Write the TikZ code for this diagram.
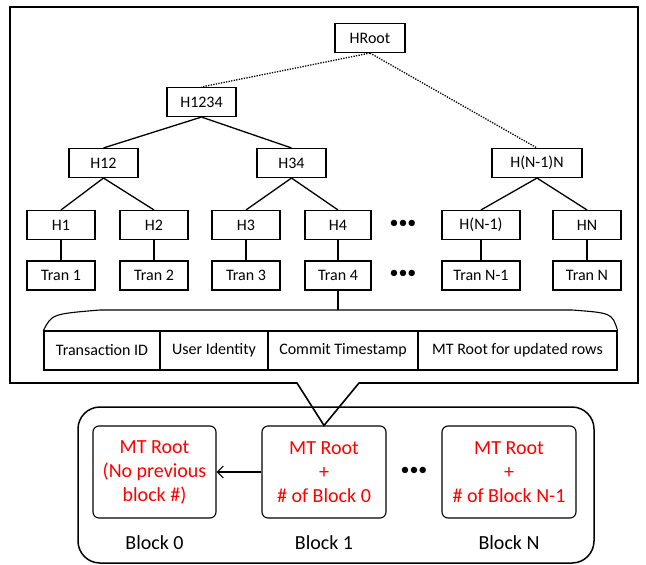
\documentclass[tikz,border=0pt]{standalone}
\usepackage{fontspec}
\setmainfont{Carlito}
\usetikzlibrary{arrows.meta}
\tikzset{
  hbox/.style={draw,line width=1.1pt,inner sep=0pt,minimum height=29pt,font=\fontsize{16}{18}\selectfont},
  field/.style={draw,line width=1.1pt,inner sep=0pt,minimum height=39pt,font=\fontsize{16}{18}\selectfont},
  blk/.style={draw,line width=1.1pt,rounded corners=6pt,minimum height=92pt,inner sep=0pt,text=red,align=center,font=\fontsize{20}{24}\selectfont},
  tree/.style={line width=1.3pt},
  dots/.style={font=\fontsize{18}{18}\selectfont},
}
\begin{document}
\begin{tikzpicture}[x=1pt,y=-1pt,>={Straight Barb[length=6pt,width=12pt]}]
    \useasboundingbox (0,0) rectangle (646,565);
    \node[hbox,minimum width=70pt](hroot) at (370,38) {HRoot};
    \node[hbox,minimum width=69pt](h1234) at (201.5,102) {H1234};
    \node[hbox,minimum width=69pt](h12) at (103.5,163) {H12};
    \node[hbox,minimum width=69pt](h34) at (291.5,163) {H34};
    \node[hbox,minimum width=90pt](hnn) at (537,163) {H(N-1)N};
    \foreach \i/\x/\w/\h/\t in {1/61/68/H1/Tran 1,2/154/68/H2/Tran 2,3/246/68/H3/Tran 3,4/338/66/H4/Tran 4,m/481/78/H(N-1)/Tran N-1,n/587/68/HN/Tran N}{
        \node[hbox,minimum width=\w pt](h\i) at (\x,225) {\h};
        \node[hbox,minimum width=\w pt](t\i) at (\x,275.5) {\t};
        \draw[tree](h\i)--(t\i);
    }
    \node[dots](dotsh) at (403,224) {•••};
    \node[dots](dotst) at (403,274) {•••};
    \draw[line width=1.3pt,dash pattern=on 1.3pt off 1.3pt](hroot.south)--(h1234.north);
    \draw[line width=1.3pt,dash pattern=on 1.3pt off 1.3pt](hroot.south)--(hnn.north);
    \draw[tree](h1234.south)--(h12.north);
    \draw[tree](h1234.south)--(h34.north);
    \draw[tree](h12.south)--(h1.north);
    \draw[tree](h12.south)--(h2.north);
    \draw[tree](h34.south)--(h3.north);
    \draw[tree](h34.south)--(h4.north);
    \draw[tree](hnn.south)--(hm.north);
    \draw[tree](hnn.south)--(hn.north);
    \node[field,minimum width=116pt](f1) at (102,350.5) {Transaction ID};
    \node[field,minimum width=108pt](f2) at (214,350.5) {User Identity};
    \node[field,minimum width=150pt](f3) at (343,350.5) {Commit Timestamp};
    \node[field,minimum width=199pt](f4) at (517.5,350.5) {MT Root for updated rows};
    \draw[line width=1.1pt](f1.north west) .. controls (52,314) .. (100,310)--(572,310) .. controls (612,313) .. (f4.north east);
    \coordinate (brace) at (338,310);
    \draw[tree](t4)--(brace);
    \node[blk,minimum width=123pt](b0) at (154.5,472) {MT Root\\(No previous\\block \#)};
    \node[blk,minimum width=124pt](b1) at (324,472) {MT Root\\+\\\# of Block 0};
    \node[blk,minimum width=134pt](bn) at (509,472) {MT Root\\+\\\# of Block N-1};
    \node[dots](dotsb) at (414,471) {•••};
    \draw[->,line width=1.1pt](b1.west)--(b0.east);
    \node[font=\fontsize{20}{24}\selectfont](l0) at (154.5,543) {Block 0};
    \node[font=\fontsize{20}{24}\selectfont](l1) at (324,543) {Block 1};
    \node[font=\fontsize{20}{24}\selectfont](ln) at (509,543) {Block N};
    \draw[line width=1.5pt,rounded corners=22pt](78,407) rectangle (594,563);
    \draw[line width=1.6pt,line join=miter](297,383)--(10,383)--(10,7)--(638,7)--(638,383)--(359,383)--(b1.north)--cycle;
\end{tikzpicture}
\end{document}
